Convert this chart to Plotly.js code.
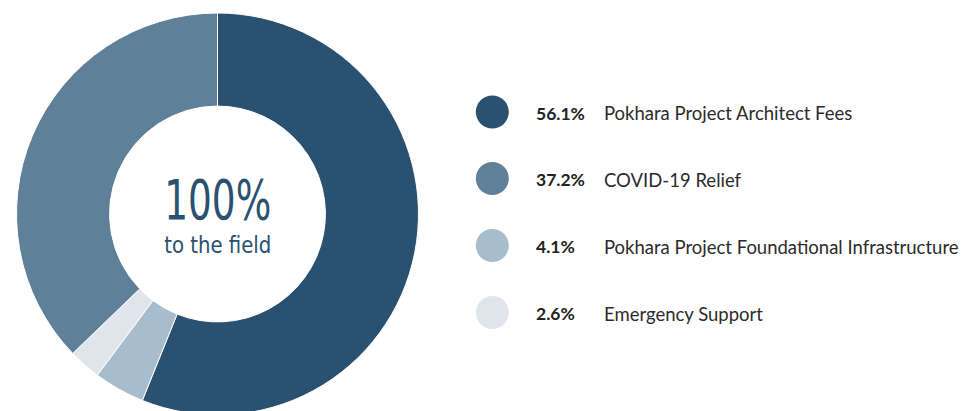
<!DOCTYPE html>
<html><head><meta charset="utf-8">
<script src="https://cdn.plot.ly/plotly-3.0.1.min.js"></script>
<style>html,body{margin:0;padding:0;overflow:hidden;background:#fff;width:961px;height:411px}</style>
</head><body><div id="chart"></div>
<script>
const labels = ["Pokhara Project Architect Fees", "Pokhara Project Foundational Infrastructure", "Emergency Support", "COVID-19 Relief"];
const values = [56.1, 4.1, 2.6, 37.2];
const colors = ["#2a516f", "#a7bccd", "#dfe5ea", "#5f8099"];
const legendOrder = [0, 3, 1, 2];
const centerTitle = "100%";
const centerSub = "to the field";

const W = 961, H = 424;
const px = x => x / W, py = y => 1 - y / H;
const rowY = [112, 178.5, 245.5, 312.5];
const shapes = [], annotations = [];
legendOrder.forEach((idx, i) => {
  const y = rowY[i];
  shapes.push({type: 'circle', xref: 'paper', yref: 'paper',
    x0: px(475.8), x1: px(508.8), y0: py(y + 16.5), y1: py(y - 16.5),
    fillcolor: colors[idx], line: {width: 0}});
  annotations.push({xref: 'paper', yref: 'paper', x: px(534), y: py(y + 1), xanchor: 'left', yanchor: 'middle',
    text: '<b>' + values[idx].toFixed(1) + '%</b>', showarrow: false,
    font: {family: 'Lato, sans-serif', size: 17.5, color: '#222222'}});
  annotations.push({xref: 'paper', yref: 'paper', x: px(602), y: py(y + 1), xanchor: 'left', yanchor: 'middle',
    text: labels[idx], showarrow: false,
    font: {family: 'Lato, sans-serif', size: 18.5, color: '#2b2b2b'}});
});
annotations.push({xref: 'paper', yref: 'paper', x: px(217), y: py(213), xanchor: 'center', yanchor: 'middle',
  text: '<span style="font-size:55px">' + centerTitle + '</span><br><span style="font-size:23px">' + centerSub + '</span>', showarrow: false,
  font: {family: '"DejaVu Sans Condensed", sans-serif', size: 26.5, color: '#2a516f'}});

Plotly.newPlot('chart', [{
  type: 'pie', labels: labels, values: values, sort: false, direction: 'clockwise', rotation: 0,
  hole: 0.537, marker: {colors: colors, line: {color: '#ffffff', width: 1}},
  textinfo: 'none', hoverinfo: 'label+percent',
  domain: {x: [px(16), px(419)], y: [9 / H, 411 / H]}
}], {
  width: W, height: H, margin: {l: 0, r: 0, t: 0, b: 0},
  showlegend: false, paper_bgcolor: '#ffffff', plot_bgcolor: '#ffffff',
  shapes: shapes, annotations: annotations
}, {displayModeBar: false, staticPlot: true}).then(() => {
  const texts = document.querySelectorAll('.annotation-text');
  const center = texts[texts.length - 1];
  const lines = center.querySelectorAll('tspan.line');
  const lens = [107, 107];
  lines.forEach((t, i) => {
    t.setAttribute('textLength', lens[i] || 107);
    t.setAttribute('lengthAdjust', 'spacingAndGlyphs');
  });
});
</script></body></html>
